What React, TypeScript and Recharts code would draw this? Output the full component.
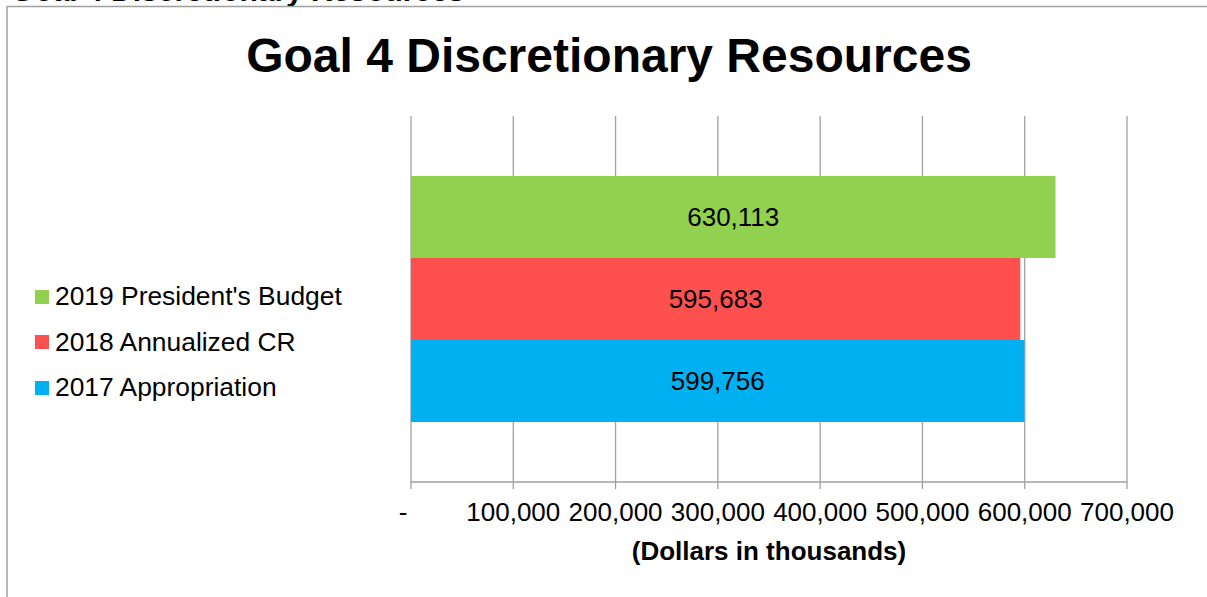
import { BarChart, Bar, XAxis, YAxis, CartesianGrid, Legend, LabelList } from "recharts";

const CATEGORIES = ["Goal 4"];
const SERIES_NAMES = ["2019 President's Budget", "2018 Annualized CR", "2017 Appropriation"];
const SERIES_KEYS = ["pb2019", "cr2018", "app2017"];
const SERIES_COLORS = ["#92D050", "#FF5050", "#00B0F0"];
const PB_2019 = [630113];
const CR_2018 = [595683];
const APP_2017 = [599756];
const X_TICKS = [0, 100000, 200000, 300000, 400000, 500000, 600000, 700000];

const FONT = "'Liberation Sans', Arial, sans-serif";
const GRID = "#a0a0a0";

const data = CATEGORIES.map((name, i) => ({
  name,
  pb2019: PB_2019[i],
  cr2018: CR_2018[i],
  app2017: APP_2017[i],
}));

const fmt = (v: number) => (v === 0 ? "-" : v.toLocaleString("en-US"));

function XTick({ x, y, payload }: any) {
  const v = payload.value as number;
  return (
    <text
      x={v === 0 ? x - 8 : x}
      y={y}
      dy="0.71em"
      textAnchor="middle"
      fill="#000"
      fontSize={26}
      fontFamily={FONT}
    >
      {fmt(v)}
    </text>
  );
}

// legend rows follow the series order (2019 on top), not recharts' payload order
function LegendBox({ payload }: any) {
  const items = [...(payload || [])].sort(
    (a: any, b: any) => SERIES_NAMES.indexOf(a.value) - SERIES_NAMES.indexOf(b.value)
  );
  return (
    <div style={{ fontFamily: FONT, fontSize: 26.4, color: "#000" }}>
      {items.map((p: any) => (
        <div key={p.value} style={{ height: 45.5, display: "flex", alignItems: "center" }}>
          <span style={{ width: 14, height: 14, background: p.color, marginRight: 6, display: "inline-block" }} />
          <span style={{ whiteSpace: "nowrap" }}>{p.value}</span>
        </div>
      ))}
    </div>
  );
}

export default function App() {
  return (
    <div style={{ position: "absolute", left: 0, top: 0, width: 1207, height: 597, background: "#fff", overflow: "hidden" }}>
      <svg width={1207} height={597} style={{ position: "absolute", left: 0, top: 0 }}>
        <text x={11} y={0.5} fontSize={30} fontWeight="bold" fontFamily={FONT} fill="#000">
          Goal 4 Discretionary Resources
        </text>
        <line x1={7} y1={6.5} x2={1207} y2={6.5} stroke={GRID} strokeWidth={1.5} />
        <line x1={7} y1={6} x2={7} y2={597} stroke={GRID} strokeWidth={1.5} />
        <text x={609} y={72} textAnchor="middle" fontSize={48} fontWeight="bold" fontFamily={FONT} fill="#000">
          Goal 4 Discretionary Resources
        </text>
        <text x={769} y={560} textAnchor="middle" fontSize={26} fontWeight="bold" fontFamily={FONT} fill="#000">
          (Dollars in thousands)
        </text>
      </svg>
      <div style={{ position: "absolute", left: 0, top: 0 }}>
        <BarChart
          width={1207}
          height={597}
          data={data}
          layout="vertical"
          margin={{ top: 116, right: 80, bottom: 85, left: 411 }}
          barCategoryGap={60}
          barGap={0}
        >
          <CartesianGrid horizontal={false} stroke={GRID} strokeWidth={1.3} />
          <XAxis
            type="number"
            domain={[0, 700000]}
            ticks={X_TICKS}
            interval={0}
            height={30}
            tick={<XTick />}
            tickSize={7}
            tickMargin={14}
            axisLine={{ stroke: GRID, strokeWidth: 1.3 }}
            tickLine={{ stroke: GRID, strokeWidth: 1.3 }}
          />
          <YAxis type="category" dataKey="name" hide />
          <Legend
            layout="horizontal"
            align="center"
            verticalAlign="middle"
            content={<LegendBox />}
            wrapperStyle={{ position: "absolute", left: 35, top: 274, width: 360 }}
          />
          {SERIES_KEYS.map((k, i) => (
            <Bar key={k} dataKey={k} name={SERIES_NAMES[i]} fill={SERIES_COLORS[i]} isAnimationActive={false}>
              <LabelList
                dataKey={k}
                position="center"
                formatter={(v: any) => Number(v).toLocaleString("en-US")}
                fill="#000"
                fontSize={26}
                fontFamily={FONT}
              />
            </Bar>
          ))}
        </BarChart>
      </div>
    </div>
  );
}
